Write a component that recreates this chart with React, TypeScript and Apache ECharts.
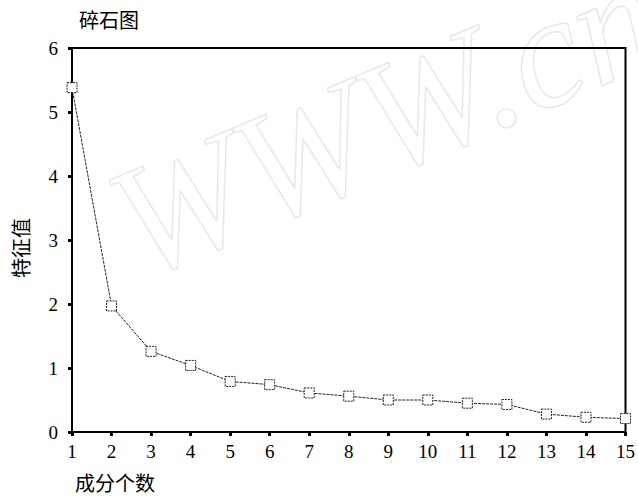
import React, { useEffect, useRef } from "react";
import * as echarts from "echarts";

const components = [1, 2, 3, 4, 5, 6, 7, 8, 9, 10, 11, 12, 13, 14, 15];
const eigenvalues = [5.38, 1.97, 1.26, 1.04, 0.79, 0.74, 0.61, 0.56, 0.5, 0.5, 0.45, 0.43, 0.28, 0.23, 0.21];
const yTicks = [0, 1, 2, 3, 4, 5, 6];
const titleText = "碎石图";
const xName = "成分个数";
const yName = "特征值";
const watermark = "WWW.cn";

export default function App() {
  const ref = useRef<HTMLDivElement>(null);
  useEffect(() => {
    if (!ref.current) return;
    const chart = echarts.init(ref.current, undefined, { renderer: "svg" });
    const cjk = "Noto Sans CJK SC";
    const serif = "Times New Roman, Liberation Serif, DejaVu Serif, serif";
    chart.setOption({
      animation: false,
      backgroundColor: "#fff",
      grid: {
        left: 72,
        right: 8,
        top: 48,
        bottom: 65,
        show: true,
        borderColor: "#000",
        borderWidth: 2,
        containLabel: false,
      },
      graphic: [
        {
          type: "text",
          x: 150,
          y: 305,
          rotation: 0.4,
          z: -10,
          silent: true,
          style: {
            text: watermark,
            fontSize: 160,
            fontStyle: "italic",
            fontFamily: serif,
            fill: "transparent",
            stroke: "#e8e8e8",
            lineWidth: 1.5,
            verticalAlign: "bottom",
          },
        },
        {
          type: "text",
          x: 79,
          y: 9,
          style: { text: titleText, fontSize: 20, fontFamily: cjk, fill: "#000" },
        },
        {
          type: "text",
          x: 75,
          y: 472,
          style: { text: xName, fontSize: 20, fontFamily: cjk, fill: "#000" },
        },
        {
          type: "text",
          x: 10,
          y: 278,
          rotation: Math.PI / 2,
          style: { text: yName, fontSize: 20, fontFamily: cjk, fill: "#000" },
        },
      ],
      xAxis: {
        type: "value",
        min: 1,
        max: 15,
        interval: 1,
        axisLine: { show: true, lineStyle: { color: "#000", width: 2 } },
        axisTick: { show: true, length: 4, lineStyle: { color: "#000", width: 3 } },
        axisLabel: { color: "#000", fontFamily: serif, fontSize: 19, margin: 10 },
        splitLine: { show: false },
      },
      yAxis: {
        type: "value",
        min: yTicks[0],
        max: yTicks[yTicks.length - 1],
        interval: 1,
        axisLine: { show: true, lineStyle: { color: "#000", width: 2 } },
        axisTick: { show: true, length: 4, lineStyle: { color: "#000", width: 3 } },
        axisLabel: { color: "#000", fontFamily: serif, fontSize: 19, margin: 14 },
        splitLine: { show: false },
      },
      series: [
        {
          type: "line",
          data: components.map((c, i) => [c, eigenvalues[i]]),
          symbol: "rect",
          symbolSize: 10,
          showAllSymbol: true,
          lineStyle: { color: "#222", width: 1, type: [3, 1] },
          itemStyle: { color: "#fff", borderColor: "#222", borderWidth: 1, borderType: [2, 1] },
          clip: false,
        },
      ],
    });
    return () => chart.dispose();
  }, []);
  return (
    <div
      ref={ref}
      style={{ position: "fixed", left: 0, top: 0, width: 638, height: 497 }}
    />
  );
}
